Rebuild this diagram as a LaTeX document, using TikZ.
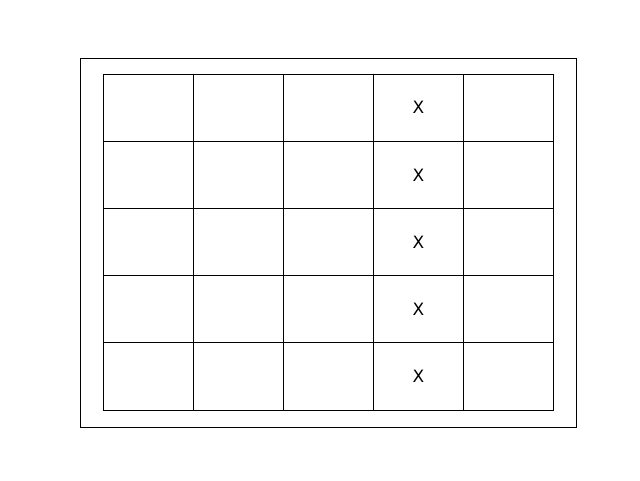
\documentclass[tikz,border=0pt]{standalone}
\usepackage{fontspec}
\setmainfont{DejaVu Sans}
\usepackage{tikz}
\tikzstyle{cell} = [rectangle, minimum width=90pt, minimum height=67.2pt, inner sep=0pt, outer sep=0pt, draw=black, line width=1pt]
\tikzstyle{frame} = [draw=black, line width=1pt]
\tikzstyle{cross} = [font=\fontsize{17}{19}\selectfont]

\begin{document}
\begin{tikzpicture}[x=1pt, y=-1pt]
		\useasboundingbox (0,0) rectangle (640,480);
		\draw [frame] (80.5,58.5) rectangle (576.5,427.5);
		\foreach \r in {0,...,4} {
			\foreach \c in {0,...,4} {
				\node (cell\r\c) [cell] at (148.5+90*\c, 107.6+67.2*\r) {};
			}
		}
		\foreach \r in {0,...,4} {
			\node (x\r) at (cell\r3) [cross] {X};
		}
	\end{tikzpicture}
\end{document}
